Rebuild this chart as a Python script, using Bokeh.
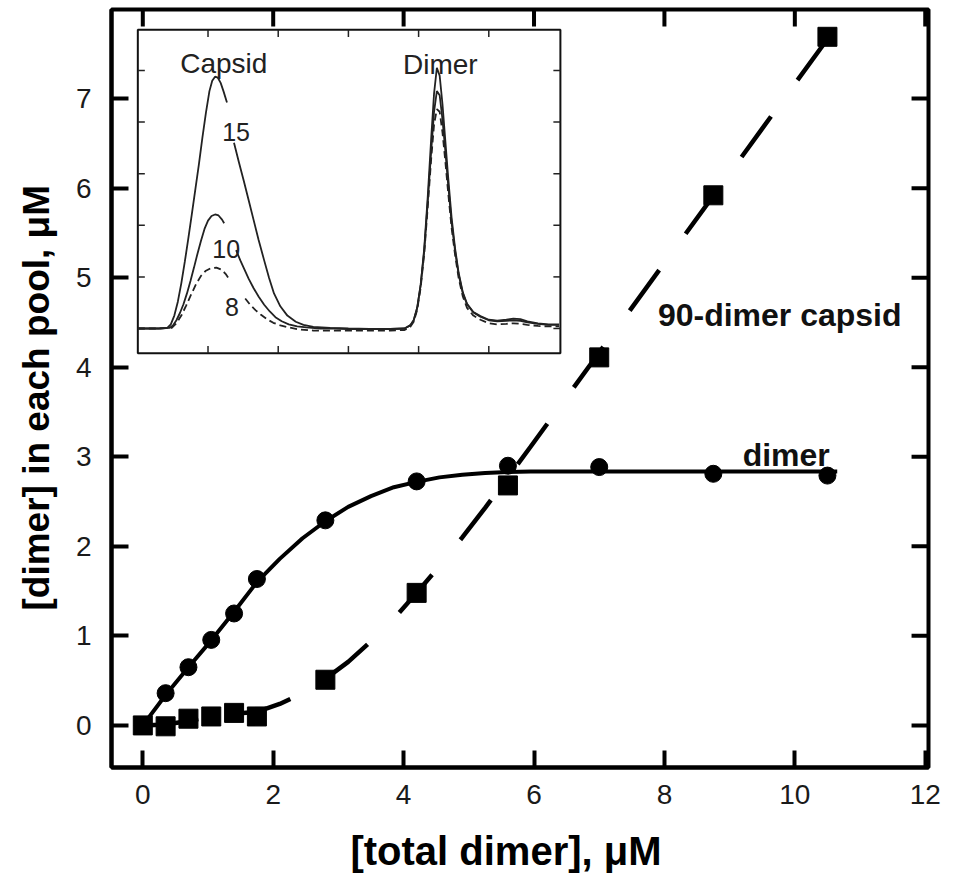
import numpy as np
from bokeh.plotting import figure
from bokeh.models import Range1d, LinearAxis, FixedTicker
from bokeh.core.properties import value
from bokeh.embed import file_html
from bokeh.resources import INLINE

nan = float("nan")

# ---------------- main panel data ----------------
total_dimer = [0.0, 0.35, 0.70, 1.05, 1.40, 1.75, 2.80, 4.20, 5.60, 7.00, 8.75, 10.50]
free_dimer = [0.0, 0.36, 0.65, 0.955, 1.25, 1.635, 2.29, 2.725, 2.90, 2.885, 2.81, 2.79]
capsid_dimer = [0.0, -0.01, 0.075, 0.10, 0.14, 0.10, 0.51, 1.48, 2.68, 4.11, 5.92, 7.69]

fit_x = [0.0, 0.35, 0.70, 1.05, 1.40, 1.75, 2.10, 2.45, 2.80, 3.15, 3.50, 3.85,
         4.20, 4.55, 4.90, 5.25, 5.60, 5.95, 6.30, 7.00, 8.00, 9.00, 10.00, 10.50]
fit_free = [0.0, 0.34, 0.65, 0.95, 1.27, 1.60, 1.86, 2.09, 2.28, 2.44, 2.56, 2.66,
            2.72, 2.77, 2.80, 2.82, 2.83, 2.835, 2.835, 2.835, 2.835, 2.835, 2.835, 2.835]
fit_free_end_x = [10.50, 10.65]
fit_free_end_y = [2.835, 2.835]
fit_capsid = [0.0, 0.01, 0.05, 0.10, 0.13, 0.15, 0.24, 0.36, 0.52, 0.71, 0.94, 1.19,
              1.48, 1.78, 2.10, 2.43, 2.77, 3.115, 3.465, 4.165, 5.165, 6.165, 7.165, 7.665]

x_ticks = [0, 2, 4, 6, 8, 10, 12]
y_ticks = [0, 1, 2, 3, 4, 5, 6, 7]

# ---------------- inset (elution profiles) data ----------------
dimer_x = [3.30, 3.60, 3.80, 3.88, 3.93, 3.98, 4.03, 4.08, 4.13, 4.18, 4.22, 4.26,
           4.30, 4.34, 4.38, 4.42, 4.47, 4.52, 4.57, 4.63, 4.69, 4.78, 4.88, 5.00,
           5.12, 5.25, 5.35, 5.45, 5.55, 5.70, 5.85, 6.00]

trace15_x = [0.00, 0.30, 0.42, 0.47, 0.52, 0.57, 0.62, 0.67, 0.72, 0.77, 0.82, 0.87,
             0.92, 0.97, 1.02, 1.06, 1.10, 1.14, 1.18, 1.22, 1.27, nan, 1.37, 1.44,
             1.51, 1.58, 1.65, 1.72, 1.80, 1.87, 1.94, 2.03, 2.13, 2.25, 2.36, 2.50,
             2.74, 3.00] + dimer_x
trace15_y = [0.00, 0.00, 0.01, 0.08, 0.25, 0.52, 0.88, 1.30, 1.75, 2.22, 2.70, 3.18,
             3.70, 4.18, 4.60, 4.80, 4.88, 4.86, 4.76, 4.60, 4.38, nan, 3.60, 3.22,
             2.86, 2.48, 2.10, 1.72, 1.32, 0.98, 0.68, 0.43, 0.25, 0.13, 0.07, 0.03,
             0.01, 0.00,
             -0.01, -0.01, 0.00, 0.06, 0.16, 0.40, 0.85, 1.55, 2.55, 3.70, 4.55, 5.05,
             4.90, 4.35, 3.65, 2.95, 2.15, 1.55, 1.08, 0.70, 0.48, 0.32, 0.24, 0.17,
             0.15, 0.17, 0.19, 0.18, 0.14, 0.10, 0.08, 0.08]

trace10_x = [0.00, 0.30, 0.45, 0.50, 0.55, 0.60, 0.65, 0.70, 0.75, 0.80, 0.85, 0.90,
             0.95, 1.00, 1.05, 1.10, 1.15, 1.20, 1.23, nan, 1.40, 1.46, 1.52, 1.58,
             1.65, 1.72, 1.80, 1.88, 1.96, 2.05, 2.15, 2.27, 2.40, 2.60, 2.80, 3.00] + dimer_x
trace10_y = [0.00, 0.00, 0.01, 0.06, 0.16, 0.30, 0.47, 0.68, 0.92, 1.18, 1.45, 1.70,
             1.93, 2.09, 2.18, 2.21, 2.19, 2.11, 2.04, nan, 1.52, 1.32, 1.14, 0.96,
             0.78, 0.62, 0.46, 0.33, 0.22, 0.14, 0.08, 0.04, 0.02, 0.00, 0.00, -0.01,
             -0.01, -0.01, 0.00, 0.06, 0.16, 0.40, 0.85, 1.50, 2.45, 3.45, 4.20, 4.60,
             4.52, 4.05, 3.45, 2.80, 2.05, 1.50, 1.05, 0.68, 0.47, 0.31, 0.23, 0.16,
             0.14, 0.15, 0.16, 0.15, 0.12, 0.09, 0.07, 0.07]

trace8_x = [0.00, 0.30, 0.48, 0.55, 0.62, 0.69, 0.76, 0.83, 0.90, 0.97, 1.04, 1.12,
            1.19, 1.25, 1.30, nan, 1.53, 1.60, 1.68, 1.75, 1.84, 1.93, 2.03, 2.15,
            2.30, 2.50, 2.80, 3.00] + dimer_x
trace8_y = [0.00, 0.00, 0.01, 0.10, 0.25, 0.45, 0.66, 0.86, 1.02, 1.12, 1.17, 1.18,
            1.14, 1.06, 0.96, nan, 0.58, 0.46, 0.35, 0.27, 0.18, 0.11, 0.06, 0.02,
            -0.02, -0.04, -0.04, -0.04,
            -0.04, -0.04, -0.03, 0.03, 0.13, 0.36, 0.80, 1.45, 2.35, 3.30, 3.95, 4.25,
            4.20, 3.80, 3.25, 2.65, 1.95, 1.42, 0.98, 0.62, 0.40, 0.25, 0.17, 0.10,
            0.08, 0.09, 0.10, 0.09, 0.07, 0.05, 0.04, 0.04]

inset_x_ticks = [1, 2, 3, 4, 5]
inset_y_ticks = [0, 1, 2, 3, 4, 5]

FONT = "Liberation Sans"
X0, X1, Y0, Y1 = -0.48, 12.05, -0.47, 7.995

p = figure(width=953, height=880, output_backend="svg", toolbar_location=None,
           x_range=Range1d(X0, X1), y_range=Range1d(Y0, Y1),
           x_axis_type=None, y_axis_type=None,
           min_border_left=111, min_border_right=25, min_border_top=9, min_border_bottom=113)
p.background_fill_color = "white"
p.border_fill_color = "white"
p.outline_line_color = "black"
p.outline_line_width = 4
p.xgrid.visible = False
p.ygrid.visible = False

def style_axis(ax, ticks):
    ax.ticker = FixedTicker(ticks=ticks, minor_ticks=[])
    ax.axis_line_width = 4
    ax.axis_line_color = "black"
    ax.major_tick_in = 17
    ax.major_tick_out = 0
    ax.major_tick_line_width = 4
    ax.major_tick_line_color = "black"
    ax.minor_tick_line_color = None
    ax.major_label_text_font = FONT
    ax.major_label_text_font_size = "28px"
    ax.major_label_text_color = "#1a1a1a"

xb = LinearAxis(axis_label="[total dimer], \u03bcM\u2002\u2009")
style_axis(xb, x_ticks)
xb.major_label_standoff = 17
xb.axis_label_text_font = FONT
xb.axis_label_text_font_size = "40px"
xb.axis_label_text_font_style = "bold"
xb.axis_label_text_color = "black"
xb.axis_label_standoff = 22
p.add_layout(xb, "below")

yl = LinearAxis(axis_label="[dimer] in each pool, \u03bcM\u2002")
style_axis(yl, y_ticks)
yl.major_label_standoff = 20
yl.axis_label_text_font = FONT
yl.axis_label_text_font_size = "37px"
yl.axis_label_text_font_style = "bold"
yl.axis_label_text_color = "black"
yl.axis_label_standoff = 16
p.add_layout(yl, "left")

# inward ticks on the top and right edges of the frame
TLX = 0.26   # 17 px in x units
TLY = 0.19   # 17 px in y units
p.segment(x0=x_ticks, x1=x_ticks, y0=[Y1] * len(x_ticks), y1=[Y1 - TLY] * len(x_ticks),
          line_color="black", line_width=4)
p.segment(x0=[X1] * len(y_ticks), x1=[X1 - TLX] * len(y_ticks), y0=y_ticks, y1=y_ticks,
          line_color="black", line_width=4)

# main curves
p.line(fit_x, fit_free, line_color="black", line_width=4)
p.line(fit_free_end_x, fit_free_end_y, line_color="black", line_width=4)
p.line(fit_x, fit_capsid, line_color="black", line_width=4.5,
       line_dash="50 45", line_dash_offset=-6)
p.scatter(total_dimer, free_dimer, marker="circle", size=17,
          fill_color="black", line_color="black")
p.scatter(total_dimer, capsid_dimer, marker="square", size=19,
          fill_color="black", line_color="black")

p.text(x=[7.90], y=[4.58], text=["90-dimer capsid"], text_font=value(FONT),
       text_font_size="32px", text_font_style="bold", text_color="#111111",
       text_align="left", text_baseline="alphabetic")
p.text(x=[9.20], y=[3.015], text=["dimer"], text_font=value(FONT),
       text_font_size="32px", text_font_style="bold", text_color="#111111",
       text_align="left", text_baseline="alphabetic")

# ---------------- inset on its own scales ----------------
p.extra_x_ranges = {"ix": Range1d(-0.375, 11.264)}
p.extra_y_ranges = {"iy": Range1d(-8.508, 6.182)}
IX0, IX1, IY0, IY1 = 0.0, 6.02, -0.48, 5.79

p.quad(left=[IX0], right=[IX1], bottom=[IY0], top=[IY1], fill_color="white",
       line_color="#111111", line_width=2, x_range_name="ix", y_range_name="iy")

tx = inset_x_ticks
p.segment(x0=tx, x1=tx, y0=[IY0] * len(tx), y1=[IY0 + 0.14] * len(tx),
          line_color="#222222", line_width=1.5, x_range_name="ix", y_range_name="iy")
p.segment(x0=tx, x1=tx, y0=[IY1] * len(tx), y1=[IY1 - 0.14] * len(tx),
          line_color="#222222", line_width=1.5, x_range_name="ix", y_range_name="iy")
ty = inset_y_ticks
p.segment(x0=[IX0] * len(ty), x1=[IX0 + 0.1] * len(ty), y0=ty, y1=ty,
          line_color="#222222", line_width=1.5, x_range_name="ix", y_range_name="iy")
p.segment(x0=[IX1] * len(ty), x1=[IX1 - 0.1] * len(ty), y0=ty, y1=ty,
          line_color="#222222", line_width=1.5, x_range_name="ix", y_range_name="iy")

p.line(np.array(trace8_x), np.array(trace8_y), line_color="#222222", line_width=1.8,
       line_dash="7 4", x_range_name="ix", y_range_name="iy")
p.line(np.array(trace10_x), np.array(trace10_y), line_color="#222222", line_width=1.8,
       x_range_name="ix", y_range_name="iy")
p.line(np.array(trace15_x), np.array(trace15_y), line_color="#222222", line_width=1.8,
       x_range_name="ix", y_range_name="iy")

p.text(x=[1.225, 4.31], y=[5.13, 5.12], text=["Capsid", "Dimer"], text_font=value(FONT),
       text_font_size="28px", text_color="#222222", text_align="center",
       text_baseline="alphabetic", x_range_name="ix", y_range_name="iy")
p.text(x=[1.40, 1.26, 1.34], y=[3.80, 1.54, 0.41], text=["15", "10", "8"],
       text_font=value(FONT), text_font_size="25px", text_color="#222222",
       text_align="center", text_baseline="alphabetic",
       x_range_name="ix", y_range_name="iy")

open("out.html", "w").write(file_html(p, INLINE))
